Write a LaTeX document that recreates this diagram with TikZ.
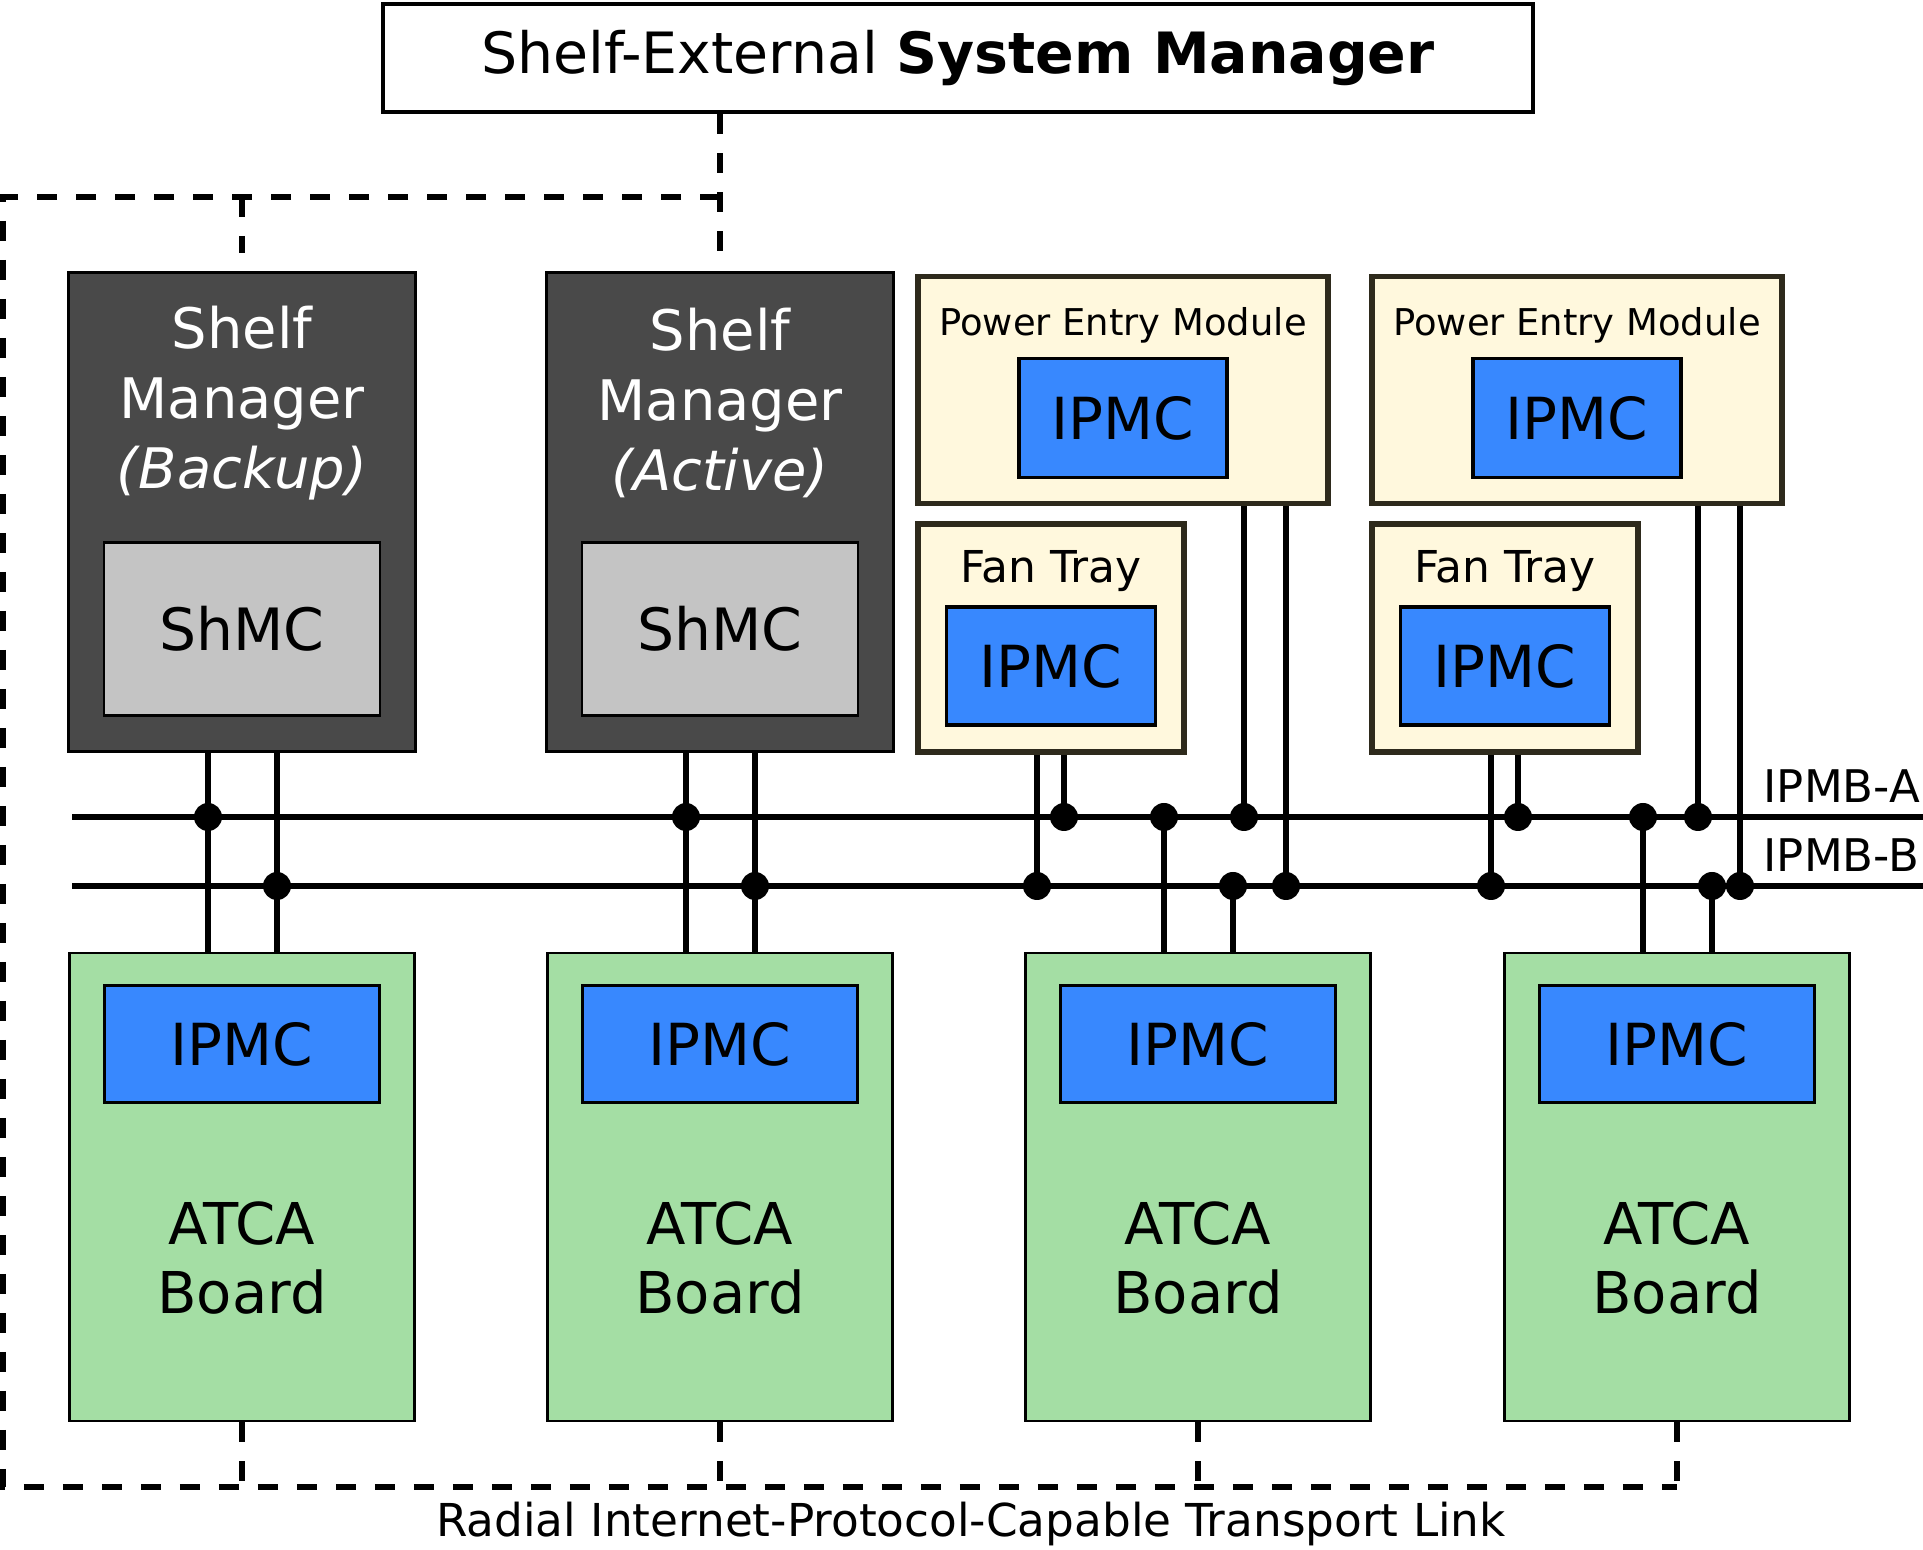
\documentclass[tikz,border=0pt]{standalone}
\usepackage{fontspec}
\setmainfont{DejaVu Sans}
\usetikzlibrary{positioning}

\definecolor{mgrgray}{HTML}{494949}
\definecolor{shmcgray}{HTML}{C4C4C4}
\definecolor{boardgreen}{HTML}{A4DEA4}
\definecolor{ipmcblue}{HTML}{3888FE}
\definecolor{modfill}{HTML}{FFF8DD}
\definecolor{moddraw}{HTML}{2E2A1C}

\tikzset{
  sysbox/.style={draw, line width=1.4pt, fill=white, minimum width=115mm, minimum height=10.8mm, inner sep=0pt, font=\fontsize{16.2}{20}\selectfont},
  mgrbox/.style={draw, line width=0.8pt, fill=mgrgray, minimum width=34.7mm, minimum height=47.9mm},
  mgrtext/.style={text=white, align=center, inner sep=0pt, font=\fontsize{15.9}{20}\selectfont},
  shmcbox/.style={draw, line width=0.8pt, fill=shmcgray, minimum width=27.6mm, minimum height=17.3mm, font=\fontsize{16.6}{20}\selectfont},
  boardbox/.style={draw, line width=0.8pt, fill=boardgreen, minimum width=34.5mm, minimum height=46.8mm},
  boardtext/.style={align=center, inner sep=0pt, font=\fontsize{16.4}{19.9}\selectfont},
  ipmcbox/.style={draw, line width=1.1pt, fill=ipmcblue, inner sep=0pt, font=\fontsize{16.5}{20}\selectfont},
  modbox/.style={draw=moddraw, line width=1.5pt, fill=modfill},
  bus/.style={line width=1.7pt},
  tap/.style={line width=1.7pt},
  link/.style={line width=1.8pt, dash pattern=on 2mm off 1.9mm},
  buslabel/.style={inner sep=0pt, anchor=base west, font=\fontsize{12.8}{15}\selectfont},
}

\begin{document}
\begin{tikzpicture}[x=0.1mm,y=-0.1mm]
\useasboundingbox (0,0) rectangle (1923,1550);

\node[sysbox] (sys) at (958,58) {Shelf-External \textbf{System Manager}};

\node[mgrbox] (sm1) at (242,512) {};
\node[mgrtext] (sm1text) at (242,403) {Shelf\\Manager\\\textit{(Backup)}};
\node[shmcbox] (shmc1) at (242,629) {ShMC};
\node[mgrbox] (sm2) at (720,512) {};
\node[mgrtext] (sm2text) at (720,403) {Shelf\\Manager\\\textit{(Active)}};
\node[shmcbox] (shmc2) at (720,629) {ShMC};

\foreach \i/\x in {1/1123,2/1577} {
  \node[modbox, minimum width=41mm, minimum height=22.7mm] (pem\i) at (\x,390) {};
  \node[inner sep=0pt, anchor=base, font=\fontsize{10.5}{12}\selectfont] (pemtext\i) at (\x,336) {Power Entry Module};
  \node[ipmcbox, minimum width=20.8mm, minimum height=11.9mm] (pemipmc\i) at (\x,418) {IPMC};
  \node[modbox, minimum width=26.6mm, minimum height=22.8mm] (ft\i) at (\x-72,638) {};
  \node[inner sep=0pt, anchor=base, font=\fontsize{12.5}{15}\selectfont] (fttext\i) at (\x-72,583) {Fan Tray};
  \node[ipmcbox, minimum width=20.9mm, minimum height=11.8mm] (ftipmc\i) at (\x-72,666) {IPMC};
}

\foreach \i/\x in {1/242,2/720,3/1198,4/1677} {
  \node[boardbox] (bd\i) at (\x,1187) {};
  \node[ipmcbox, minimum width=27.5mm, minimum height=11.7mm] (bdipmc\i) at (\x,1044) {IPMC};
  \node[boardtext] (bdtext\i) at (\x,1258) {ATCA\\Board};
}

\coordinate (busA) at (72,817);
\coordinate (busAend) at (1923,817);
\coordinate (busB) at (72,886);
\coordinate (busBend) at (1923,886);
\draw[bus] (busA) -- (busAend);
\draw[bus] (busB) -- (busBend);
\node[buslabel] (ipmba) at (1763,803) {IPMB-A};
\node[buslabel] (ipmbb) at (1763,872) {IPMB-B};

\foreach \i in {1,2} {
  \draw[tap] ([xshift=-3.4mm]sm\i.south) -- ([xshift=-3.4mm]bd\i.north);
  \draw[tap] ([xshift=3.5mm]sm\i.south) -- ([xshift=3.5mm]bd\i.north);
  \fill ([xshift=-3.4mm]sm\i.south |- busA) circle[radius=1.4mm];
  \fill ([xshift=3.5mm]sm\i.south |- busB) circle[radius=1.4mm];
}
\foreach \i in {3,4} {
  \draw[tap] ([xshift=-3.4mm]bd\i.north |- busA) -- ([xshift=-3.4mm]bd\i.north);
  \draw[tap] ([xshift=3.5mm]bd\i.north |- busB) -- ([xshift=3.5mm]bd\i.north);
  \fill ([xshift=-3.4mm]bd\i.north |- busA) circle[radius=1.4mm];
  \fill ([xshift=3.5mm]bd\i.north |- busB) circle[radius=1.4mm];
}
\foreach \i in {1,2} {
  \draw[tap] ([xshift=-1.4mm]ft\i.south) -- ([xshift=-1.4mm]ft\i.south |- busB);
  \draw[tap] ([xshift=1.3mm]ft\i.south) -- ([xshift=1.3mm]ft\i.south |- busA);
  \draw[tap] ([xshift=12.1mm]pem\i.south) -- ([xshift=12.1mm]pem\i.south |- busA);
  \draw[tap] ([xshift=16.3mm]pem\i.south) -- ([xshift=16.3mm]pem\i.south |- busB);
  \fill ([xshift=-1.4mm]ft\i.south |- busB) circle[radius=1.4mm];
  \fill ([xshift=1.3mm]ft\i.south |- busA) circle[radius=1.4mm];
  \fill ([xshift=12.1mm]pem\i.south |- busA) circle[radius=1.4mm];
  \fill ([xshift=16.3mm]pem\i.south |- busB) circle[radius=1.4mm];
}

\coordinate (lt) at (3,197);
\coordinate (lb) at (3,1487);
\draw[link] (sys.south -| sm2.north) -- ([yshift=1.8mm]sm2.north);
\draw[link] (sm2.north |- lt) -- (lt) -- (lb) -- (bd4.south |- lb);
\draw[link] (sm1.north |- lt) -- ([yshift=1.8mm]sm1.north);
\foreach \i in {1,2,3,4} {
  \draw[link] (bd\i.south) -- (bd\i.south |- lb);
}
\node[inner sep=0pt, anchor=base, font=\fontsize{12.9}{15}\selectfont] (linklabel) at (971,1537) {Radial Internet-Protocol-Capable Transport Link};
\end{tikzpicture}
\end{document}
